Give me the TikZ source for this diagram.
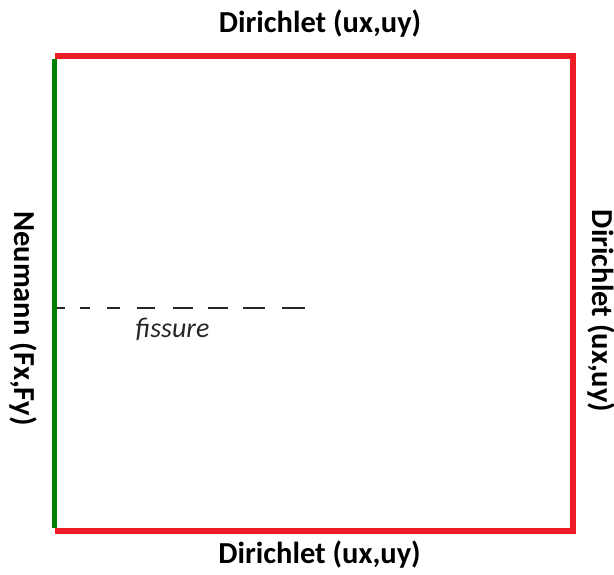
\documentclass[tikz,border=0pt]{standalone}
\usepackage{fontspec}
\setmainfont{Carlito}
\definecolor{bred}{RGB}{237,28,36}
\definecolor{bgreen}{RGB}{0,128,0}
\begin{document}
\begin{tikzpicture}[x=1pt,y=-1pt,
  lbl/.style={font=\fontsize{30.5}{34}\selectfont\bfseries, inner sep=0pt, anchor=base},
  redside/.style={draw=bred, line width=6pt},
  greenside/.style={draw=bgreen, line width=5pt},
  dashseg/.style={draw=black!85, line width=2pt}]
\useasboundingbox (0,0) rectangle (614,574);
\coordinate (tl) at (54.5,56);
\coordinate (tr) at (573,56);
\coordinate (br) at (573,531);
\coordinate (bl) at (54.5,531);
\draw[redside, line join=miter] (tl) -- (tr) -- (br) -- (bl);
\draw[greenside] ([yshift=-3pt]tl) -- ([yshift=3pt]bl);
\foreach \a/\b in {57/65, 80/90, 107/120, 137/155, 173/193, 208/228, 243/265, 282/305}
  \draw[dashseg] (\a,307.5) -- (\b,307.5);
\node[font=\fontsize{28}{32}\selectfont\itshape, text=black!85, inner sep=0pt, anchor=base] (fis) at (172.5,337) {fissure};
\node[lbl] (top) at (320,32) {Dirichlet (ux,uy)};
\node[lbl] (bot) at (319.5,563) {Dirichlet (ux,uy)};
\node[lbl, rotate=-90] (left) at (15,318.5) {Neumann (Fx,Fy)};
\node[lbl, rotate=-90] (right) at (592,311) {Dirichlet (ux,uy)};
\end{tikzpicture}
\end{document}
